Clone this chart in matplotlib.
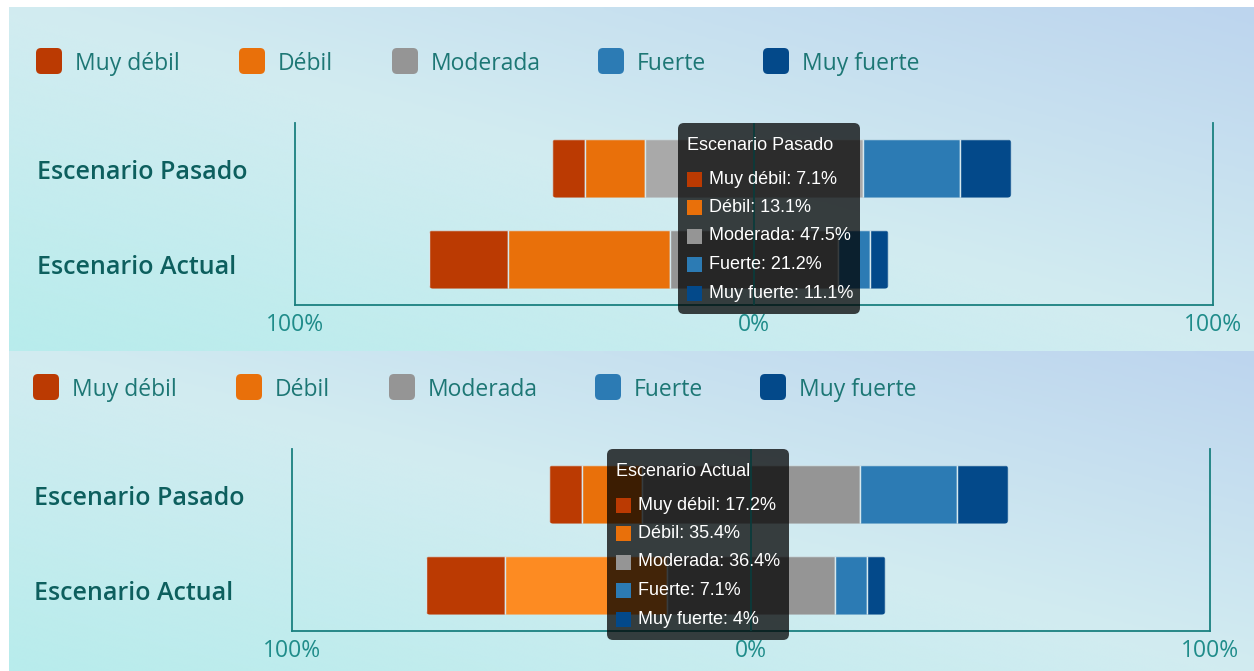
import numpy as np
import matplotlib.pyplot as plt
from matplotlib.patches import FancyBboxPatch
from matplotlib.colors import LinearSegmentedColormap
from matplotlib.transforms import Affine2D, ScaledTranslation, blended_transform_factory

# datos
categorias = ['Escenario Pasado', 'Escenario Actual']
niveles = ['Muy débil', 'Débil', 'Moderada', 'Fuerte', 'Muy fuerte']
pasado = [7.1, 13.1, 47.5, 21.2, 11.1]
actual = [17.2, 35.4, 36.4, 7.1, 4]
colores = ['#bb3a02', '#e9700a', '#959595', '#2c7bb4', '#03498a']
ticks_x = [-100, 0, 100]
ticks_lbl = ['100%', '0%', '100%']

W, H = 1254, 671
fig = plt.figure(figsize=(W / 100, H / 100), dpi=100)
fig.patch.set_facecolor('white')
# coordenadas en pixeles (y hacia arriba)
px = Affine2D().scale(1 / W, 1 / H) + fig.transFigure

FUENTE = 'Open Sans'
TEAL = '#1a8080'


def ax_px(x0, y0, x1, y1):
    return fig.add_axes([x0 / W, 1 - y1 / H, (x1 - x0) / W, (y1 - y0) / H])


cmap_fondo = LinearSegmentedColormap.from_list('fondo', ['#b8ecec', '#d2ecf1', '#bdd5ee'])


def fondo(y0, y1):
    ax = ax_px(9, y0, W, y1)
    U, V = np.meshgrid(np.linspace(0, 1, 400), np.linspace(0, 1, 120))
    t = 0.5 + (U - V) / 2
    ax.imshow(t, cmap=cmap_fondo, aspect='auto', interpolation='bicubic')
    ax.axis('off')
    ax.set_zorder(-5)


def panel(dx, dy, tip_cat, tip_x, hover):
    # hover: (fila, nivel, color) del segmento resaltado
    datos = np.array([pasado, actual])
    y = np.arange(len(categorias))
    x0, x1, y0, y1 = 295 + dx, 1213 + dx, 123 + dy, 305 + dy
    ax = ax_px(x0, y0, x1, y1)
    ax.patch.set_alpha(0)
    ax.set_xlim(-100, 100)
    ax.set_ylim(1.5, -0.5)
    alto = 0.64
    # esquinas redondeadas en los extremos de cada barra
    asp = (2 / (y1 - y0)) / (200 / (x1 - x0))
    izq = -(datos[:, 0] + datos[:, 1] + datos[:, 2] / 2)
    clips = []
    for i in range(len(categorias)):
        c = FancyBboxPatch((izq[i], y[i] - alto / 2), datos[i].sum(), alto,
                           boxstyle=f'round,pad=0,rounding_size={4 * 200 / (x1 - x0)}',
                           mutation_aspect=asp, visible=False)
        ax.add_patch(c)
        clips.append(c)
    inicio = izq.copy()
    for j, nivel in enumerate(niveles):
        cols = [colores[j]] * len(categorias)
        if hover[1] == j:
            cols[hover[0]] = hover[2]
        barras = ax.barh(y, datos[:, j], left=inicio, height=alto, color=cols,
                         edgecolor='#d6e8ee', linewidth=1.0, zorder=2)
        for b, c in zip(barras, clips):
            b.set_clip_path(c)
        inicio = inicio + datos[:, j]
    for s in ['left', 'bottom', 'right']:
        ax.spines[s].set_color(TEAL)
        ax.spines[s].set_linewidth(1.3)
    ax.spines['top'].set_visible(False)
    ax.set_xticks(ticks_x, ticks_lbl)
    ax.set_yticks([])
    ax.tick_params(axis='x', length=0, pad=6, labelcolor='#1f8c8a', labelsize=16.5)
    for lbl in ax.get_xticklabels():
        lbl.set_family(FUENTE)
    # etiquetas de categoria
    tr = blended_transform_factory(px, ax.transData)
    for i, cat in enumerate(categorias):
        ax.text(37 + dx, y[i], cat, ha='left', va='center', family=FUENTE, weight='semibold',
                fontsize=18, color='#0d5f5e',
                transform=tr + ScaledTranslation(0, -[4, 8][i] / 100, fig.dpi_scale_trans))
    ax.axvline(0, color='#0b3b3b', lw=1.3, zorder=7)

    # leyenda
    ly = H - (61 + dy)
    for j, nivel in enumerate(niveles):
        lx = [36, 239, 392, 598, 763][j] + dx
        ax.add_patch(FancyBboxPatch((lx, ly - 13), 26, 26, boxstyle='round,pad=0,rounding_size=5',
                                    transform=px, facecolor=colores[j], edgecolor='none', clip_on=False))
        ax.text(lx + 39, ly, nivel, transform=px, fontsize=16.5, family=FUENTE,
                color='#1d7775', va='center_baseline', ha='left')

    # tooltip
    fila = categorias.index(tip_cat)
    top = 123 + dy
    ax.add_patch(FancyBboxPatch((tip_x, H - (top + 191)), 182, 191, boxstyle='round,pad=0,rounding_size=6',
                                transform=px, facecolor=(0, 0, 0, 0.74), edgecolor='none',
                                clip_on=False, zorder=6))
    ax.text(tip_x + 9, H - (top + 23), tip_cat, transform=px, color='white', fontsize=13,
            family='Liberation Sans', va='center', zorder=8)
    for j, nivel in enumerate(niveles):
        cy = H - (top + 56 + j * 28.5)
        ax.add_patch(FancyBboxPatch((tip_x + 9, cy - 7.5), 15, 15, boxstyle='square,pad=0',
                                    transform=px, facecolor=colores[j], edgecolor='none',
                                    clip_on=False, zorder=8))
        ax.text(tip_x + 31, cy, f'{nivel}: {datos[fila, j]:g}%', transform=px, color='white',
                fontsize=13, family='Liberation Sans', va='center', zorder=8)


fondo(7, 351)
fondo(351, H)
panel(0, 0, 'Escenario Pasado', 678, (0, 2, '#a9a9a9'))
panel(-3, 326, 'Escenario Actual', 607, (1, 1, '#fd8b22'))

fig.savefig('out.png', dpi=100)
